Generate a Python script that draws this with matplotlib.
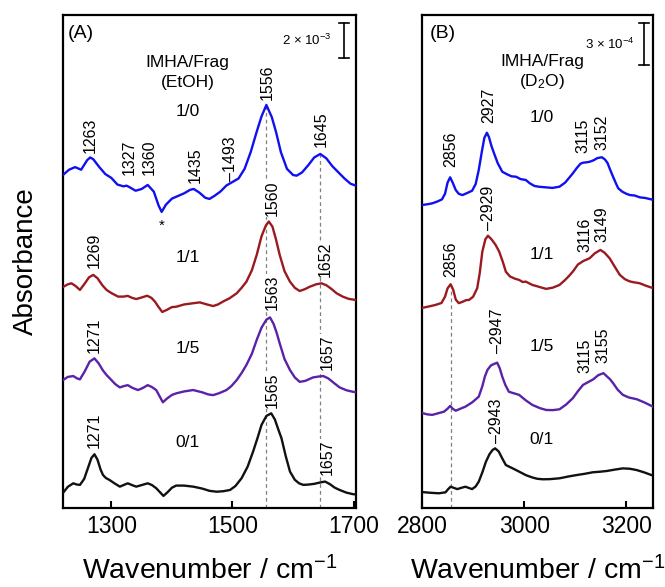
import numpy as np
import matplotlib
matplotlib.use("Agg")
import matplotlib.pyplot as plt

plt.rcParams['font.family'] = ['Liberation Sans', 'DejaVu Sans']
plt.rcParams['mathtext.fontset'] = 'custom'
plt.rcParams['mathtext.rm'] = 'Liberation Sans'
plt.rcParams['mathtext.it'] = 'Liberation Sans'
plt.rcParams['mathtext.bf'] = 'Liberation Sans:bold'

# ---------------- Panel A: IMHA/Frag in EtOH (absorbance, units of 1e-3) ----------------
ratios = ["1/0", "1/1", "1/5", "0/1"]

wn_a_10 = [1220, 1230, 1240, 1250, 1260, 1265, 1270, 1280, 1290, 1300, 1310, 1320, 1325, 1330,
           1340, 1350, 1360, 1370, 1378, 1383, 1390, 1400, 1410, 1420, 1430, 1436, 1445, 1455,
           1462, 1470, 1480, 1490, 1500, 1510, 1520, 1530, 1540, 1548, 1556, 1565, 1572, 1580,
           1590, 1600, 1606, 1615, 1625, 1635, 1645, 1655, 1665, 1675, 1685, 1695, 1703]
abs_a_10 = [0.0, 0.3, 0.45, 0.3, 0.85, 1.0, 0.9, 0.45, 0.05, -0.17, -0.55, -0.65, -0.61, -0.7,
            -0.9, -0.8, -0.57, -0.95, -1.75, -2.11, -1.7, -1.35, -1.2, -1.05, -0.85, -0.8, -1.0, -1.3,
            -1.37, -1.2, -0.95, -0.6, -0.4, -0.2, 0.35, 1.3, 2.47, 3.35, 4.0, 3.3, 2.45, 1.3,
            0.35, 0.0, -0.04, 0.15, 0.55, 1.0, 1.2, 0.95, 0.5, 0.15, -0.2, -0.5, -0.6]

wn_a_11 = [1220, 1228, 1234, 1241, 1248, 1256, 1263, 1270, 1277, 1285, 1292, 1300, 1311, 1320,
           1327, 1334, 1341, 1350, 1359, 1366, 1372, 1378, 1384, 1392, 1400, 1407, 1420, 1435,
           1446, 1458, 1468, 1476, 1484, 1495, 1507, 1515, 1523, 1532, 1540, 1548, 1555, 1560,
           1566, 1572, 1578, 1586, 1595, 1603, 1611, 1620, 1628, 1638, 1647, 1655, 1663, 1672,
           1682, 1692, 1703]
abs_a_11 = [0.0, 0.15, 0.21, 0.05, -0.17, 0.2, 0.55, 0.69, 0.5, 0.1, -0.17, -0.35, -0.55, -0.55,
            -0.51, -0.62, -0.69, -0.6, -0.5, -0.62, -0.84, -1.15, -1.43, -1.3, -1.15, -1.13, -1.0, -0.93,
            -0.88, -1.0, -1.09, -1.0, -0.84, -0.65, -0.36, -0.05, 0.3, 0.95, 1.83, 2.9, 3.5, 3.74,
            3.45, 2.7, 1.83, 0.9, 0.3, -0.05, -0.23, -0.12, 0.02, 0.15, 0.21, 0.1, -0.1, -0.36,
            -0.55, -0.68, -0.74]

wn_a_15 = [1220, 1228, 1237, 1243, 1248, 1256, 1264, 1272, 1279, 1286, 1292, 1300, 1307, 1314,
           1320, 1327, 1335, 1344, 1352, 1360, 1367, 1374, 1380, 1385, 1392, 1400, 1407, 1420,
           1435, 1450, 1460, 1468, 1478, 1490, 1498, 1507, 1515, 1523, 1532, 1540, 1548, 1556,
           1562, 1568, 1573, 1578, 1586, 1595, 1603, 1611, 1620, 1633, 1642, 1650, 1658, 1667,
           1677, 1688, 1699, 1703]
abs_a_15 = [0.0, 0.18, 0.23, 0.1, 0.04, 0.5, 1.05, 1.24, 0.95, 0.55, 0.29, 0.0, -0.25, -0.42,
            -0.35, -0.29, -0.45, -0.57, -0.45, -0.29, -0.4, -0.57, -0.95, -1.27, -1.05, -0.85, -0.76, -0.65,
            -0.57, -0.7, -0.82, -0.86, -0.75, -0.57, -0.35, 0.0, 0.4, 0.86, 1.5, 2.29, 3.0, 3.45,
            3.58, 3.2, 2.7, 2.1, 1.2, 0.57, 0.15, -0.1, -0.05, 0.15, 0.2, 0.23, 0.1, -0.15,
            -0.42, -0.58, -0.67, -0.69]

wn_a_01 = [1220, 1228, 1237, 1243, 1248, 1255, 1262, 1267, 1272, 1277, 1282, 1286, 1291, 1297,
           1305, 1314, 1320, 1327, 1334, 1341, 1350, 1360, 1367, 1374, 1380, 1386, 1393, 1400,
           1407, 1420, 1435, 1450, 1462, 1474, 1485, 1496, 1505, 1515, 1525, 1534, 1541, 1548,
           1556, 1564, 1570, 1576, 1581, 1588, 1595, 1603, 1610, 1617, 1626, 1635, 1645, 1653,
           1661, 1669, 1677, 1688, 1699, 1703]
abs_a_01 = [0.0, 0.35, 0.55, 0.48, 0.46, 0.8, 1.5, 2.0, 2.21, 1.9, 1.35, 1.03, 0.85, 0.74,
            0.55, 0.36, 0.45, 0.55, 0.45, 0.36, 0.45, 0.55, 0.45, 0.27, 0.05, -0.17, 0.05, 0.3,
            0.42, 0.42, 0.36, 0.25, 0.12, 0.07, 0.1, 0.17, 0.4, 0.84, 1.5, 2.36, 3.1, 3.89,
            4.4, 4.55, 4.2, 3.6, 3.12, 2.1, 1.22, 0.75, 0.55, 0.46, 0.48, 0.52, 0.6, 0.65,
            0.5, 0.3, 0.17, 0.02, -0.07, -0.08]

# ---------------- Panel B: IMHA/Frag in D2O (absorbance, units of 1e-4) ----------------
wn_b_10 = [2800, 2810, 2820, 2830, 2839, 2845, 2850, 2855, 2860, 2866, 2872, 2879, 2888, 2898,
           2905, 2911, 2917, 2922, 2927, 2931, 2936, 2941, 2948, 2957, 2966, 2975, 2984, 2993,
           3003, 3011, 3020, 3030, 3043, 3055, 3069, 3080, 3088, 3095, 3103, 3110, 3115, 3122,
           3128, 3136, 3143, 3152, 3158, 3163, 3167, 3174, 3180, 3184, 3192, 3200, 3207, 3216,
           3226, 3237, 3249, 3252]
abs_b_10 = [0.0, 0.05, 0.12, 0.25, 0.4, 0.8, 1.6, 1.98, 1.6, 1.07, 0.8, 0.71, 0.85, 1.02,
            1.5, 2.5, 3.8, 4.8, 5.16, 4.85, 4.2, 3.69, 3.0, 2.38, 2.2, 2.05, 2.02, 1.85,
            1.79, 1.55, 1.36, 1.3, 1.26, 1.22, 1.31, 1.6, 1.95, 2.26, 2.65, 2.95, 3.02, 3.05,
            3.09, 3.2, 3.35, 3.41, 3.25, 3.0, 2.62, 2.0, 1.5, 1.19, 0.95, 0.8, 0.71, 0.68,
            0.55, 0.5, 0.4, 0.38]

wn_b_11 = [2800, 2813, 2826, 2838, 2845, 2850, 2856, 2861, 2866, 2872, 2880, 2886, 2892, 2900,
           2908, 2913, 2918, 2924, 2929, 2936, 2944, 2951, 2958, 2964, 2972, 2981, 2990, 2997,
           3003, 3010, 3016, 3025, 3034, 3043, 3056, 3069, 3080, 3088, 3095, 3105, 3116, 3122,
           3128, 3138, 3149, 3157, 3167, 3177, 3187, 3197, 3206, 3213, 3220, 3226, 3237, 3249,
           3252]
abs_b_11 = [0.0, 0.1, 0.21, 0.35, 0.8, 1.4, 1.69, 1.3, 0.6, 0.34, 0.45, 0.55, 0.57, 0.8,
            1.41, 2.5, 4.02, 4.9, 5.16, 4.9, 4.5, 4.02, 3.3, 2.59, 2.25, 2.1, 2.0, 1.85,
            1.88, 1.75, 1.64, 1.55, 1.45, 1.36, 1.45, 1.64, 2.0, 2.3, 2.59, 3.1, 3.36, 3.45,
            3.55, 3.9, 4.14, 3.95, 3.55, 2.95, 2.36, 2.05, 1.9, 1.84, 1.8, 1.76, 1.6, 1.45,
            1.42]

wn_b_15 = [2800, 2810, 2820, 2832, 2843, 2850, 2855, 2860, 2866, 2875, 2885, 2898, 2911, 2918,
           2923, 2928, 2935, 2947, 2952, 2957, 2963, 2970, 2980, 2990, 3003, 3016, 3030, 3043,
           3056, 3069, 3082, 3095, 3105, 3115, 3125, 3135, 3145, 3155, 3162, 3168, 3174, 3183,
           3193, 3205, 3220, 3235, 3249, 3252]
abs_b_15 = [0.0, -0.1, -0.14, -0.02, 0.09, 0.3, 0.5, 0.3, 0.16, 0.3, 0.45, 0.75, 1.16, 1.9,
            2.6, 3.07, 3.4, 3.59, 3.2, 2.59, 2.0, 1.51, 1.4, 1.29, 0.9, 0.57, 0.35, 0.21,
            0.2, 0.26, 0.6, 1.05, 1.55, 2.0, 2.2, 2.4, 2.7, 2.84, 2.6, 2.4, 2.12, 1.65,
            1.29, 1.1, 0.98, 0.75, 0.5, 0.45]

wn_b_01 = [2800, 2815, 2833, 2846, 2851, 2856, 2862, 2869, 2877, 2885, 2891, 2898, 2905, 2911,
           2918, 2925, 2932, 2938, 2943, 2950, 2957, 2964, 2974, 2984, 2993, 3003, 3015, 3025,
           3036, 3050, 3069, 3085, 3102, 3118, 3134, 3148, 3161, 3177, 3193, 3207, 3220, 3235,
           3249, 3252]
abs_b_01 = [0.0, -0.05, -0.09, -0.02, 0.2, 0.38, 0.3, 0.21, 0.3, 0.38, 0.3, 0.21, 0.4, 0.74,
            1.4, 2.16, 2.7, 3.0, 3.12, 2.9, 2.4, 1.93, 1.75, 1.57, 1.4, 1.21, 1.05, 0.95,
            0.91, 0.92, 0.98, 1.1, 1.21, 1.3, 1.41, 1.45, 1.5, 1.6, 1.69, 1.66, 1.57, 1.4,
            1.21, 1.18]

# vertical stacking of the traces (same units as each panel)
offsets_a = [19.03, 12.63, 7.31, 0.86]
offsets_b = [21.64, 14.29, 6.79, 1.14]
colors = ["#1010f0", "#9a1a1f", "#5a22a8", "#111111"]

series_a = [(wn_a_10, abs_a_10), (wn_a_11, abs_a_11), (wn_a_15, abs_a_15), (wn_a_01, abs_a_01)]
series_b = [(wn_b_10, abs_b_10), (wn_b_11, abs_b_11), (wn_b_15, abs_b_15), (wn_b_01, abs_b_01)]

# peak annotations: (text, wavenumber, trace index, label bottom, masks dashed guide)
peaks_a = [("1263", 1265, 0, 20.3, False), ("1327", 1330, 0, 19.03, False),
           ("1360", 1363, 0, 19.03, False), ("1435", 1438, 0, 18.57, False),
           ("\u20131493", 1496, 0, 18.7, False), ("1556", 1558, 0, 23.3, False),
           ("1645", 1647, 0, 20.6, False),
           ("1269", 1272, 1, 13.7, False), ("1560", 1565, 1, 16.7, True),
           ("1652", 1653, 1, 13.2, True),
           ("1271", 1272, 2, 8.86, False), ("1563", 1565, 2, 11.3, True),
           ("1657", 1657, 2, 7.89, True),
           ("1271", 1272, 3, 3.43, False), ("1565", 1565, 3, 5.71, True),
           ("1657", 1657, 3, 1.89, True)]
peaks_b = [("2856", 2856, 0, 24.36, False), ("2927", 2931, 0, 27.5, False),
           ("3115", 3114, 0, 25.36, False), ("3152", 3152, 0, 25.57, False),
           ("2856", 2856, 1, 16.5, False), ("\u20132929", 2931, 1, 19.86, False),
           ("3116", 3118, 1, 18.29, False), ("3149", 3152, 1, 19.0, False),
           ("\u20132947", 2947, 2, 11.07, False), ("3115", 3118, 2, 9.64, False),
           ("3155", 3154, 2, 10.36, False),
           ("\u20132943", 2945, 3, 4.64, False)]

ratio_y_a = [22.63, 14.34, 9.14, 3.77]
ratio_y_b = [27.86, 18.07, 11.5, 4.86]

fig = plt.figure(figsize=(6.65, 5.87), dpi=100)
ax_a = fig.add_axes([0.0947, 0.1346, 0.4406, 0.8398])
ax_b = fig.add_axes([0.6346, 0.1346, 0.3474, 0.8398])


def style_axes(ax, xlim, ylim, ticks):
    ax.set_xlim(*xlim)
    ax.set_ylim(*ylim)
    ax.set_xticks(ticks)
    ax.set_yticks([])
    ax.tick_params(axis='x', direction='in', length=5, width=1.5, labelsize=16.5, pad=5)
    for s in ax.spines.values():
        s.set_linewidth(1.6)
    ax.set_xlabel("Wavenumber / cm$^{\u22121}$", fontsize=20.5, labelpad=13)


def draw_panel(ax, series, offsets, peaks, ratio_x, ratio_y):
    for (wn, ab), off, c in zip(series, offsets, colors):
        ax.plot(wn, np.asarray(ab) + off, color=c, lw=1.7, zorder=3,
                solid_joinstyle='round')
    for txt, x, i, yb, mask in peaks:
        kw = dict(rotation=90, ha='center', va='bottom', fontsize=11.5, zorder=4)
        if mask:
            kw['bbox'] = dict(facecolor='white', edgecolor='none', pad=0.6)
        ax.text(x, yb, txt, **kw)
    for r, y in zip(ratios, ratio_y):
        ax.text(ratio_x, y, r, ha='center', va='center', fontsize=12.5, zorder=4)


def guide(ax, series, offset, x):
    wn, ab = series
    top = np.interp(x, wn, ab) + offset
    ax.plot([x, x], [ax.get_ylim()[0], top], color='#808080', lw=0.9,
            ls=(0, (3, 2.5)), zorder=1)


def scale_bar(ax, x, y0, height, half, label, lx):
    ax.plot([x, x], [y0, y0 + height], color='black', lw=1.2)
    ax.plot([x - half, x + half], [y0, y0], color='black', lw=1.2)
    ax.plot([x - half, x + half], [y0 + height, y0 + height], color='black', lw=1.2)
    ax.text(lx, y0 + height / 2, label, ha='center', va='center', fontsize=9.5)


# Panel A
style_axes(ax_a, (1220, 1704), (0, 28.17), [1300, 1500, 1700])
draw_panel(ax_a, series_a, offsets_a, peaks_a, 1426, ratio_y_a)
guide(ax_a, series_a[0], offsets_a[0], 1556)
guide(ax_a, series_a[0], offsets_a[0], 1645)
ax_a.text(1383, 16.1, "*", ha='center', va='center', fontsize=11)
ax_a.text(0.017, 0.963, "(A)", transform=ax_a.transAxes, ha='left', va='center', fontsize=14)
ax_a.text(1426, 25.43, "IMHA/Frag", ha='center', va='center', fontsize=12.5)
ax_a.text(1426, 24.29, "(EtOH)", ha='center', va='center', fontsize=12.5)
scale_bar(ax_a, 1684, 25.71, 2.0, 8, "2 \u00d7 10$^{\u22123}$", 1622)

# Panel B
style_axes(ax_b, (2800, 3252), (0, 35.21), [2800, 3000, 3200])
draw_panel(ax_b, series_b, offsets_b, peaks_b, 3034, ratio_y_b)
guide(ax_b, series_b[1], offsets_b[1], 2856)
ax_b.text(0.035, 0.963, "(B)", transform=ax_b.transAxes, ha='left', va='center', fontsize=14)
ax_b.text(3035, 31.86, "IMHA/Frag", ha='center', va='center', fontsize=12.5)
ax_b.text(3035, 30.43, "(D$_\\mathrm{2}$O)", ha='center', va='center', fontsize=12.5)
scale_bar(ax_b, 3234, 31.64, 3.0, 10, "3 \u00d7 10$^{\u22124}$", 3167)

fig.text(0.039, 0.555, "Absorbance", rotation=90, ha='center', va='center', fontsize=20)

fig.savefig("out.png", dpi=100)
